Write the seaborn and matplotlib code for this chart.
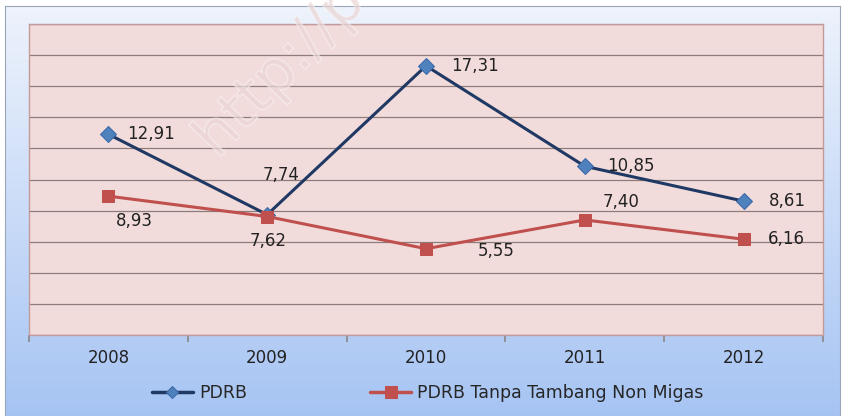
#!/usr/bin/env python3
# -*- coding: utf-8 -*-
"""Pertumbuhan PDRB 2008-2012 (grafik garis)."""

import numpy as np
import pandas as pd
import matplotlib
matplotlib.use("Agg")
import matplotlib.pyplot as plt
import matplotlib.patheffects as pe
import seaborn as sns

# Data
tahun = ["2008", "2009", "2010", "2011", "2012"]
pdrb = [12.91, 7.74, 17.31, 10.85, 8.61]
pdrb_tanpa_tambang = [8.93, 7.62, 5.55, 7.40, 6.16]
label_pdrb = "PDRB"
label_tanpa = "PDRB Tanpa Tambang Non Migas"

df = pd.DataFrame({
    "pos": np.arange(len(tahun)),
    "tahun": tahun,
    label_pdrb: pdrb,
    label_tanpa: pdrb_tanpa_tambang,
})

sns.set_theme(style="white")
plt.rcParams["font.family"] = ["DejaVu Sans"]
FS = 12

fig = plt.figure(figsize=(8.42, 4.16), dpi=100)
fig.patch.set_facecolor("white")

# latar belakang gradasi biru
bg = fig.add_axes([5 / 842, 0, 835 / 842, 410 / 416], zorder=-5)
grad = np.linspace(0, 1, 256).reshape(-1, 1)
cmap = matplotlib.colors.LinearSegmentedColormap.from_list("bg", ["#eef3fc", "#a6c4f3"])
bg.imshow(grad, aspect="auto", cmap=cmap, extent=[0, 1, 0, 1], origin="upper")
bg.set_xticks([])
bg.set_yticks([])
for s in bg.spines.values():
    s.set_color("#9aa6b8")
    s.set_linewidth(0.8)

ax = fig.add_axes([29 / 842, 81 / 416, 794 / 842, 311 / 416])
ax.set_facecolor("#f2dcdb")

sns.lineplot(data=df, x="pos", y=label_pdrb, ax=ax, color="#1f3864", linewidth=2.2,
             marker="D", markersize=8, markerfacecolor="#4f81bd",
             markeredgecolor="#3a6aa8", label=label_pdrb)
sns.lineplot(data=df, x="pos", y=label_tanpa, ax=ax, color="#c0504d", linewidth=2.2,
             marker="s", markersize=9, markerfacecolor="#c0504d",
             markeredgecolor="#c0504d", label=label_tanpa)

ax.set_xlim(-0.5, len(tahun) - 0.5)
ax.set_ylim(0, 20)
ax.set_yticks(np.arange(0, 21, 2))
ax.set_yticklabels([])
ax.tick_params(axis="y", length=0)
ax.grid(axis="y", color="#8c7c7c", linewidth=0.9)
ax.set_axisbelow(True)

# tick di batas kategori, label di tengah
ax.set_xticks(np.arange(-0.5, len(tahun)))
ax.set_xticklabels([])
ax.set_xticks(df["pos"], minor=True)
ax.set_xticklabels(tahun, minor=True, fontsize=FS, color="#222222")
ax.tick_params(axis="x", which="major", length=5, color="#8a8a8a", direction="out", bottom=True)
ax.tick_params(axis="x", which="minor", length=0, pad=10)
ax.set_xlabel("")
ax.set_ylabel("")
for s in ax.spines.values():
    s.set_color("#c39a9a")
    s.set_linewidth(1.0)

# label nilai
fmt = lambda v: f"{v:.2f}".replace(".", ",")
off_pdrb = [(19, 0, "left"), (14, 40, "center"), (25, 0, "left"), (22, 0, "left"), (25, 0, "left")]
off_tanpa = [(26, -25, "center"), (1, -24, "center"), (52, -2, "left"), (36, 18, "center"), (24, 0, "left")]
for i in range(len(tahun)):
    dx, dy, ha = off_pdrb[i]
    ax.annotate(fmt(pdrb[i]), (i, pdrb[i]), xytext=(dx, dy), textcoords="offset pixels",
                ha=ha, va="center", fontsize=FS, color="#222222")
    dx, dy, ha = off_tanpa[i]
    ax.annotate(fmt(pdrb_tanpa_tambang[i]), (i, pdrb_tanpa_tambang[i]), xytext=(dx, dy),
                textcoords="offset pixels", ha=ha, va="center", fontsize=FS, color="#222222")

leg = ax.legend(loc="center left", bbox_to_anchor=((152 - 29) / 794, -0.186), ncol=2,
                frameon=False, fontsize=12.5, handlelength=2.36, handletextpad=0.35,
                columnspacing=7.1, borderpad=0, borderaxespad=0)
for ln, ms in zip(leg.get_lines(), [6, 8]):
    ln.set_markersize(ms)
    ln.set_linewidth(2.5)

# watermark
fig.text(185 / 842, 1 - 168 / 416, "http://pa", rotation=46, fontsize=42,
         color="#ead5d5", alpha=0.45, ha="left", va="bottom",
         path_effects=[pe.withStroke(linewidth=1.2, foreground="white")])

fig.savefig("out.png", dpi=100)
